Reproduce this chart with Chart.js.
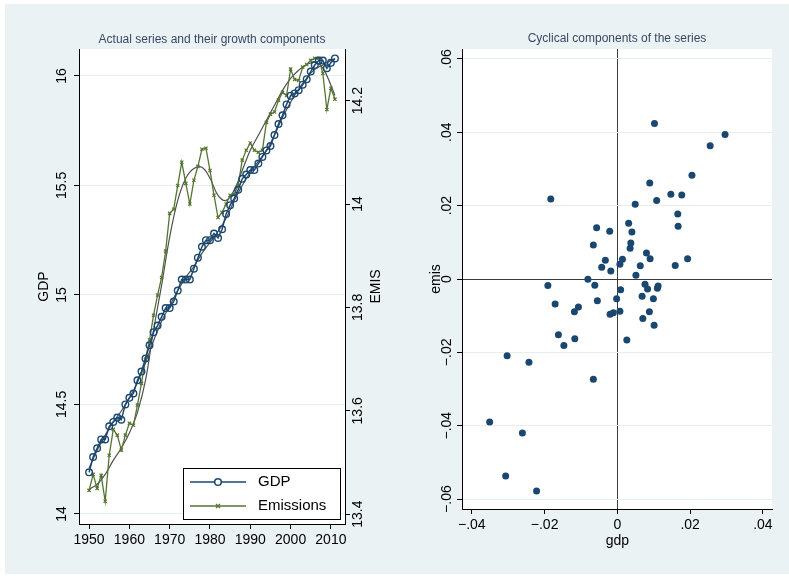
<!DOCTYPE html>
<html>
<head>
<meta charset="utf-8">
<script src="https://cdn.jsdelivr.net/npm/chart.js@4.4.1/dist/chart.umd.min.js"></script>
<style>
  html, body { margin: 0; padding: 0; background: #ffffff; }
  #frame { position: absolute; left: 5px; top: 4px; width: 784px; height: 570px; background: #eaf2f3; }
  #left { position: absolute; left: 0; top: 0; }
  #right { position: absolute; left: 400px; top: 0; }
</style>
</head>
<body>
<div id="frame"></div>
<canvas id="left" width="400" height="578"></canvas>
<canvas id="right" width="389" height="578"></canvas>
<script>
// ---- Data: log GDP and log emissions, 1950-2011 ----
const years = [];
for (let y = 1950; y <= 2011; y++) years.push(y);

const gdp = [
  14.19, 14.26, 14.30, 14.34, 14.34, 14.40, 14.42, 14.44, 14.43, 14.50,
  14.53, 14.55, 14.61, 14.65, 14.71, 14.77, 14.83, 14.86, 14.90, 14.94,
  14.94, 14.97, 15.02, 15.07, 15.07, 15.07, 15.12, 15.17, 15.22, 15.25,
  15.25, 15.28, 15.26, 15.30, 15.37, 15.41, 15.44, 15.48, 15.53, 15.55,
  15.57, 15.57, 15.60, 15.63, 15.66, 15.68, 15.73, 15.78, 15.82, 15.87,
  15.91, 15.92, 15.935, 15.96, 15.985, 16.02, 16.05, 16.07, 16.07, 16.035,
  16.06, 16.08
];

const emissions = [
  13.446, 13.477, 13.450, 13.475, 13.425, 13.514, 13.564, 13.553, 13.524, 13.553,
  13.576, 13.572, 13.611, 13.653, 13.700, 13.737, 13.785, 13.824, 13.858, 13.909,
  13.982, 13.990, 14.036, 14.081, 14.040, 14.000, 14.046, 14.073, 14.106, 14.108,
  14.065, 14.017, 13.974, 13.984, 14.000, 14.017, 14.019, 14.036, 14.085, 14.104,
  14.118, 14.104, 14.100, 14.104, 14.158, 14.174, 14.178, 14.201, 14.216, 14.210,
  14.261, 14.241, 14.239, 14.265, 14.270, 14.278, 14.282, 14.282, 14.253, 14.183,
  14.224, 14.203
];

// HP trend components (read every two years, drawn as a smooth curve)
const trendYears = [
  1950, 1952, 1954, 1956, 1958, 1960, 1962, 1964, 1966, 1968, 1970,
  1972, 1974, 1976, 1978, 1980, 1982, 1984, 1986, 1988, 1990,
  1992, 1994, 1996, 1998, 2000, 2002, 2004, 2006, 2008, 2010, 2011
];
const gdpTrend = [
  14.21, 14.29, 14.36, 14.42, 14.47, 14.53, 14.60, 14.69, 14.79, 14.88, 14.95,
  15.02, 15.08, 15.13, 15.19, 15.24, 15.29, 15.35, 15.43, 15.50, 15.56,
  15.61, 15.66, 15.73, 15.81, 15.88, 15.94, 15.99, 16.03, 16.05, 16.07, 16.08
];
const emisTrend = [
  13.448, 13.458, 13.477, 13.504, 13.528, 13.557, 13.597, 13.659, 13.756, 13.843, 13.936,
  14.007, 14.050, 14.069, 14.071, 14.050, 14.017, 14.007, 14.027, 14.065, 14.104,
  14.133, 14.162, 14.191, 14.220, 14.243, 14.259, 14.270, 14.274, 14.263, 14.230, 14.210
];

// Cyclical components (gdp cycle, emissions cycle)
const cycGdp = [
  0.0102, 0.0255, 0.0296, 0.0205, 0.0089, 0.0147, 0.0177, -0.0183, 0.0049, 0.0108,
  0.0166, 0.0167, 0.0031, -0.0057, -0.0021, 0.0040, 0.0037, -0.0066, 0.0035, 0.0080,
  0.0090, 0.0193, 0.0014, -0.0033, 0.0007, 0.0063, 0.0159, -0.0043, -0.0018, 0.0051,
  -0.0081, -0.0191, -0.0062, 0.0076, 0.0083, 0.0112, 0.0110, 0.0009, 0.0068, 0.0099,
  -0.0002, -0.0055, -0.0171, -0.0107, -0.0118, 0.0007, -0.0011, -0.0020, 0.0088, 0.0070,
  0.0101, -0.0162, -0.0117, 0.0026, -0.0147, -0.0303, -0.0243, -0.0066, -0.0351, -0.0261,
  -0.0307, -0.0222
];
const cycEmis = [
  0.0424, 0.0363, 0.0394, 0.0283, 0.0262, 0.0231, 0.0229, 0.0218, 0.0204, 0.0214,
  0.0177, 0.0144, 0.0152, 0.0140, 0.0130, 0.0128, 0.0098, 0.0093, 0.0084, 0.0071,
  0.0055, 0.0055, 0.0054, 0.0051, 0.0040, 0.0036, 0.0037, 0.0032, 0.0022, 0.0010,
  -0.0001, -0.0018, -0.0017, -0.0014, -0.0027, -0.0019, -0.0025, -0.0029, -0.0047, -0.0054,
  -0.0054, -0.0059, -0.0068, -0.0076, -0.0089, -0.0088, -0.0092, -0.0096, -0.0089, -0.0108,
  -0.0126, -0.0152, -0.0163, -0.0166, -0.0181, -0.0209, -0.0227, -0.0273, -0.0390, -0.0420,
  -0.0537, -0.0578
];

// Tick values and labels
const yearTicks = [1950, 1960, 1970, 1980, 1990, 2000, 2010];
const gdpTicks = [14, 14.5, 15, 15.5, 16];
const gdpTickLabels = ['14', '14.5', '15', '15.5', '16'];
const emisTicks = [13.4, 13.6, 13.8, 14, 14.2];
const emisTickLabels = ['13.4', '13.6', '13.8', '14', '14.2'];
const cycXTicks = [-0.04, -0.02, 0, 0.02, 0.04];
const cycXTickLabels = ['\u2212.04', '\u2212.02', '0', '.02', '.04'];
const cycYTicks = [-0.06, -0.04, -0.02, 0, 0.02, 0.04, 0.06];
const cycYTickLabels = ['\u2212.06', '\u2212.04', '\u2212.02', '0', '.02', '.04', '.06'];

// ---- Styling ----
const FONT = "'Liberation Sans', Arial, Helvetica, sans-serif";
const NAVY = '#1a476f';
const GREEN = '#55752f';
const TREND = '#505050';
const GRID = '#e6eef0';
const AXIS = '#000000';
const TITLE_COLOR = '#3a4766';

function vText(ctx, txt, x, y, size, color) {
  ctx.save();
  ctx.translate(x, y);
  ctx.rotate(-Math.PI / 2);
  ctx.font = size + 'px ' + FONT;
  ctx.fillStyle = color || '#000';
  ctx.textAlign = 'center';
  ctx.textBaseline = 'middle';
  ctx.fillText(txt, 0, 0);
  ctx.restore();
}
function hText(ctx, txt, x, y, size, color, align) {
  ctx.save();
  ctx.font = size + 'px ' + FONT;
  ctx.fillStyle = color || '#000';
  ctx.textAlign = align || 'center';
  ctx.textBaseline = 'middle';
  ctx.fillText(txt, x, y);
  ctx.restore();
}
function fixTicks(list) {
  return function (scale) { scale.ticks = list.map(v => ({ value: v })); };
}
const whitePlot = {
  id: 'whitePlot',
  beforeDraw(chart) {
    const a = chart.chartArea, ctx = chart.ctx;
    ctx.save();
    ctx.fillStyle = '#ffffff';
    ctx.fillRect(a.left, a.top, a.right - a.left, a.bottom - a.top);
    ctx.restore();
  }
};

// ---- Left panel: actual series with their trends ----
const leftDecor = {
  id: 'leftDecor',
  afterDraw(chart) {
    const ctx = chart.ctx, s = chart.scales, a = chart.chartArea;
    hText(ctx, 'Actual series and their growth components', (a.left + a.right) / 2, 40, 12, TITLE_COLOR);
    gdpTicks.forEach((v, i) => vText(ctx, gdpTickLabels[i], 62, s.yG.getPixelForValue(v), 14));
    emisTicks.forEach((v, i) => vText(ctx, emisTickLabels[i], 358, s.yE.getPixelForValue(v), 14));
    vText(ctx, 'GDP', 44, (a.top + a.bottom) / 2, 14);
    vText(ctx, 'EMIS', 376, (a.top + a.bottom) / 2, 14);

    // legend box
    const bx = 183, by = 468, bw = 157, bh = 51;
    ctx.save();
    ctx.fillStyle = '#ffffff';
    ctx.fillRect(bx, by, bw, bh);
    ctx.strokeStyle = '#000';
    ctx.lineWidth = 1;
    ctx.strokeRect(bx + 0.5, by + 0.5, bw, bh);
    const rows = [
      { label: 'GDP', color: NAVY, y: 482, style: 'circle' },
      { label: 'Emissions', color: GREEN, y: 506, style: 'cross' }
    ];
    rows.forEach(r => {
      ctx.strokeStyle = r.color;
      ctx.lineWidth = r.style === 'circle' ? 1.5 : 1.3;
      ctx.beginPath();
      ctx.moveTo(190, r.y); ctx.lineTo(246, r.y);
      ctx.stroke();
      if (r.style === 'circle') {
        ctx.fillStyle = '#fff';
        ctx.beginPath(); ctx.arc(218, r.y, 3.3, 0, Math.PI * 2); ctx.fill(); ctx.stroke();
      } else {
        ctx.beginPath();
        ctx.moveTo(216, r.y - 2); ctx.lineTo(220, r.y + 2);
        ctx.moveTo(216, r.y + 2); ctx.lineTo(220, r.y - 2);
        ctx.stroke();
      }
      hText(ctx, r.label, 258, r.y, 15, '#000', 'left');
    });
    ctx.restore();
  }
};

const pts = (xs, ys) => xs.map((x, i) => ({ x: x, y: ys[i] }));

new Chart(document.getElementById('left'), {
  type: 'line',
  data: {
    datasets: [
      {
        label: 'GDP', data: pts(years, gdp), yAxisID: 'yG',
        borderColor: NAVY, borderWidth: 1.5, tension: 0,
        pointStyle: 'circle', pointRadius: 3.3, pointBorderWidth: 1.4,
        pointBorderColor: NAVY, pointBackgroundColor: 'rgba(255,255,255,0)'
      },
      {
        label: 'GDP trend', data: pts(trendYears, gdpTrend), yAxisID: 'yG',
        borderColor: TREND, borderWidth: 1.2, pointRadius: 0, tension: 0.4
      },
      {
        label: 'Emissions', data: pts(years, emissions), yAxisID: 'yE',
        borderColor: GREEN, borderWidth: 1.3, tension: 0,
        pointStyle: 'crossRot', pointRadius: 2.3, pointBorderWidth: 1.2,
        pointBorderColor: GREEN
      },
      {
        label: 'Emissions trend', data: pts(trendYears, emisTrend), yAxisID: 'yE',
        borderColor: TREND, borderWidth: 1.2, pointRadius: 0, tension: 0.4
      }
    ]
  },
  options: {
    responsive: false, animation: false, devicePixelRatio: 1,
    layout: { padding: { top: 49, left: 0, right: 0, bottom: 0 } },
    plugins: { legend: { display: false }, tooltip: { enabled: false }, title: { display: false } },
    scales: {
      x: {
        type: 'linear', min: 1947.5, max: 2013.5,
        afterBuildTicks: fixTicks(yearTicks),
        afterFit(s) { s.height = 54; },
        grid: { drawOnChartArea: false, tickLength: 5, tickColor: AXIS },
        border: { display: true, color: AXIS, width: 1 },
        ticks: { font: { family: FONT, size: 14 }, color: '#000', padding: 3, maxRotation: 0, callback: v => String(v) }
      },
      yG: {
        type: 'linear', position: 'left', min: 13.954, max: 16.123,
        afterBuildTicks: fixTicks(gdpTicks),
        afterFit(s) { s.width = 79; },
        grid: { color: GRID, tickLength: 5, tickColor: AXIS },
        border: { display: true, color: AXIS, width: 1 },
        ticks: { color: 'rgba(0,0,0,0)' }
      },
      yE: {
        type: 'linear', position: 'right', min: 13.381, max: 14.300,
        afterBuildTicks: fixTicks(emisTicks),
        afterFit(s) { s.width = 55; },
        grid: { drawOnChartArea: false, tickLength: 5, tickColor: AXIS },
        border: { display: true, color: AXIS, width: 1 },
        ticks: { color: 'rgba(0,0,0,0)' }
      }
    }
  },
  plugins: [whitePlot, leftDecor]
});

// ---- Right panel: cyclical components scatter ----
const rightDecor = {
  id: 'rightDecor',
  afterDraw(chart) {
    const ctx = chart.ctx, s = chart.scales, a = chart.chartArea;
    hText(ctx, 'Cyclical components of the series', (a.left + a.right) / 2, 39, 12, TITLE_COLOR);
    cycYTicks.forEach((v, i) => vText(ctx, cycYTickLabels[i], 47, s.y.getPixelForValue(v), 14));
    vText(ctx, 'emis', 36, (a.top + a.bottom) / 2, 14);
    hText(ctx, 'gdp', s.x.getPixelForValue(0), 541, 14);
  }
};

new Chart(document.getElementById('right'), {
  type: 'scatter',
  data: {
    datasets: [{
      label: 'cycle', data: pts(cycGdp, cycEmis),
      pointStyle: 'circle', pointRadius: 3.5, pointBorderWidth: 0,
      backgroundColor: NAVY, borderColor: NAVY
    }]
  },
  options: {
    responsive: false, animation: false, devicePixelRatio: 1,
    layout: { padding: { top: 49, left: 0, right: 17, bottom: 0 } },
    plugins: { legend: { display: false }, tooltip: { enabled: false } },
    scales: {
      x: {
        type: 'linear', min: -0.0427, max: 0.0425,
        afterBuildTicks: fixTicks(cycXTicks),
        afterFit(s) { s.height = 69; },
        grid: {
          color: c => (c.tick && c.tick.value === 0 ? '#3c3c3c' : 'rgba(0,0,0,0)'),
          tickLength: 5, tickColor: AXIS
        },
        border: { display: true, color: AXIS, width: 1 },
        ticks: {
          font: { family: FONT, size: 14 }, color: '#000', padding: 3, maxRotation: 0,
          callback: (v, i) => cycXTickLabels[i]
        }
      },
      y: {
        type: 'linear', min: -0.0627, max: 0.0627,
        afterBuildTicks: fixTicks(cycYTicks),
        afterFit(s) { s.width = 62; },
        grid: {
          color: c => (c.tick && c.tick.value === 0 ? '#3c3c3c' : GRID),
          tickLength: 5, tickColor: AXIS
        },
        border: { display: true, color: AXIS, width: 1 },
        ticks: { color: 'rgba(0,0,0,0)' }
      }
    }
  },
  plugins: [whitePlot, rightDecor]
});
</script>
</body>
</html>
